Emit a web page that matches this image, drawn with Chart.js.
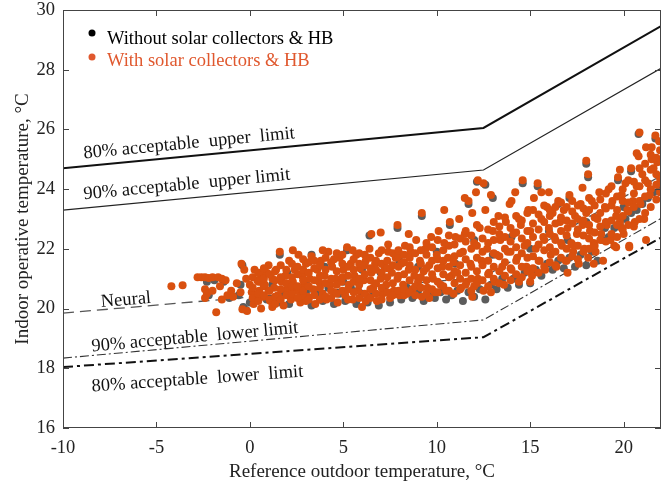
<!DOCTYPE html>
<html>
<head>
<meta charset="utf-8">
<script src="https://cdn.jsdelivr.net/npm/chart.js@4"></script>
<style>
  html, body { margin: 0; padding: 0; background: #fff; }
  canvas { display: block; }
</style>
</head>
<body>
<canvas id="graph" width="667" height="486"></canvas>
<script>
//---------- data

// comfort limit lines (break at 12.5 °C)
const limitX = [-10, 12.5, 22];
const upper80 = [24.70, 26.05, 29.46];
const upper90 = [23.30, 24.64, 28.05];
const neutral = [19.85, 21.05, 24.45];
const lower90 = [18.34, 19.62, 23.02];
const lower80 = [18.04, 19.04, 22.38];

// with solar collectors & HB  [outdoor, indoor] - scattered / edge points
const withHB = [
  [-4.2,20.75],[-3.6,20.78],[-2.8,21.05],[-2.6,21.05],[-2.4,21.05],[-2.2,21.02],[-2.0,21.05],[-1.7,21.05],
  [-1.5,21.0],[-1.3,20.95],[-2.4,20.65],[-2.3,20.5],[-2.0,20.6],[-1.6,20.75],[-1.8,19.88],[-2.4,20.35],
  [-1.5,20.3],[-1.2,20.45],[-1.0,20.6],[-0.9,20.4],[-0.7,20.85],[-0.5,20.55],
  [-0.45,21.5],[-0.3,21.3],[-0.2,21.0],[0.0,20.8],[0.1,20.55],[0.25,21.3],[0.3,20.3],[-0.4,19.98],
  [-0.15,19.92],[0.4,20.95],[0.5,20.6],[0.6,21.1],[0.7,20.4],[0.8,20.8],[0.9,21.2],[1.0,20.6],
  [1.1,20.25],[1.2,21.0],[1.3,20.7],[1.4,21.3],[1.5,20.45],[1.6,21.9],[1.7,20.9],[1.8,20.1],
  [1.9,21.1],[2.0,20.65],[0.2,20.15],[0.6,20.0],[1.0,21.45],[1.2,20.05],
  [2.1,21.6],[2.2,20.3],[2.3,20.9],[2.4,21.3],[2.5,20.6],[2.6,21.8],[2.7,20.2],[2.8,21.1],
  [2.9,20.8],[3.0,21.5],[3.1,20.4],[3.2,21.0],[3.3,21.75],[3.4,20.65],[3.5,20.15],[3.6,21.3],
  [3.7,20.9],[3.8,21.6],[3.9,20.5],[4.0,21.1],[4.1,20.3],[4.2,21.9],[4.3,20.8],[4.4,21.4],
  [4.5,20.55],[4.6,21.0],[4.7,20.2],[4.8,21.7],[4.9,20.9],[5.0,21.3],[2.3,21.95],[3.0,20.25],
  [3.9,21.95],[4.5,21.65],[2.8,20.45],
  [5.1,20.45],[5.2,22.05],[5.3,20.8],[5.4,21.5],[5.5,20.3],[5.6,21.1],[5.7,21.8],[5.8,20.6],
  [5.9,21.35],[6.0,20.05],[6.1,20.95],[6.2,21.6],[6.3,20.4],[6.4,22.0],[6.5,22.5],[6.5,21.2],
  [6.6,20.7],[6.7,21.5],[6.8,20.25],[6.9,21.85],[7.0,22.55],[7.0,21.0],[7.1,20.5],[7.2,21.4],
  [7.3,20.8],[7.4,21.9],[7.5,20.35],[7.6,21.2],[7.7,20.6],[7.8,21.7],[7.9,22.8],[7.9,21.0],
  [8.0,20.45],[5.5,21.95],[6.2,20.25],[7.4,22.15],
  [8.1,21.5],[8.2,20.8],[8.3,22.1],[8.4,20.5],[8.5,21.3],[8.6,21.9],[8.7,20.65],[8.8,21.1],
  [8.9,22.3],[9.0,20.9],[9.1,21.6],[9.2,23.2],[9.2,20.4],[9.3,21.25],[9.4,22.0],[9.5,20.7],
  [9.6,21.45],[9.7,22.4],[9.8,21.0],[9.9,20.55],[10.0,21.8],[10.1,22.6],[10.2,20.8],[10.3,21.4],
  [10.4,22.2],[10.5,20.6],[10.6,21.7],[10.7,22.9],[10.8,21.1],[10.9,20.5],[11.0,22.4],[8.5,22.5],
  [9.6,20.35],[10.4,23.3],[10.9,21.55],
  [11.1,21.2],[11.2,23.0],[11.3,20.7],[11.4,21.9],[11.5,22.5],[11.6,20.9],[11.7,23.6],[11.8,21.5],
  [11.9,20.4],[12.0,22.2],[12.1,23.9],[12.2,24.3],[12.2,21.0],[12.3,22.7],[12.4,21.6],[12.5,24.2],
  [12.5,20.6],[12.6,23.3],[12.7,22.0],[12.8,21.2],[12.9,23.8],[13.0,22.6],[13.1,20.9],[13.2,21.8],
  [13.3,23.1],[13.4,22.3],[13.5,21.4],[11.5,23.7],[12.0,20.75],[12.9,20.55],[11.9,23.2],
  [13.6,20.8],[13.7,22.9],[13.8,21.9],[13.9,23.5],[14.0,21.3],[14.1,22.5],[14.2,23.9],[14.3,21.7],
  [14.4,20.9],[14.5,22.8],[14.6,24.3],[14.7,22.1],[14.8,21.4],[14.9,23.3],[15.0,22.6],[15.1,21.1],
  [15.2,23.7],[15.3,22.0],[15.4,24.2],[15.5,21.6],[15.6,23.0],[15.7,22.4],[15.8,21.3],[15.9,23.4],
  [16.0,22.7],[14.0,23.6],[15.0,20.9],[15.6,23.9],[14.4,23.0],
  [16.1,21.8],[16.2,23.2],[16.3,22.4],[16.4,21.4],[16.5,23.6],[16.6,22.9],[16.7,22.1],[16.8,23.3],
  [16.9,21.6],[17.0,22.7],[17.1,23.8],[17.2,22.2],[17.3,21.9],[17.4,23.1],[17.5,22.5],[17.6,21.5],
  [17.7,23.5],[17.8,22.8],[17.9,22.0],[18.0,24.95],[18.0,23.2],[18.1,21.7],[18.2,22.6],[18.3,23.6],
  [18.4,22.2],[18.5,21.9],[18.6,23.0],[18.7,23.9],[18.8,22.5],[18.9,21.6],[19.0,23.4],[17.0,21.2],
  [18.4,21.5],[16.0,23.9],[18.1,24.5],[17.8,24.05],
  [19.1,22.8],[19.2,24.0],[19.3,22.3],[19.4,23.6],[19.5,22.1],[19.6,23.1],[19.7,24.4],[19.8,22.9],
  [19.9,23.8],[20.0,22.5],[20.1,24.2],[20.2,23.3],[20.3,22.1],[20.4,24.7],[20.5,23.6],[20.6,22.9],
  [20.7,24.1],[20.8,25.1],[20.9,23.5],[21.0,24.5],[21.1,23.0],[21.2,25.4],[21.3,24.2],[21.4,23.8],
  [21.5,25.0],[21.6,24.7],[21.7,25.8],[21.8,24.9],[21.9,25.6],[21.95,24.95],[19.6,22.05],[20.3,22.05],
  [21.2,22.3],[19.9,22.7],[20.85,25.9],[20.7,25.2],[21.5,25.4],[19.8,24.65]
];

// with solar collectors & HB - dense core of the cloud, [outdoor, [indoor values]]
const withHBCore = [
  [0.15,[20.35,20.7,21.05]], [0.45,[20.25,20.5,20.9,21.2]], [0.75,[20.45,20.75,21.0,21.35]],
  [1.05,[20.3,20.6,21.15]], [1.35,[20.15,20.4,20.95,21.25]], [1.65,[20.3,20.65,21.05,21.45]],
  [1.95,[20.45,20.85,21.3]], [2.25,[20.5,20.75,21.05,21.5]], [2.55,[20.35,20.75,21.15,21.4]],
  [2.85,[20.6,20.95,21.3,21.65]], [3.15,[20.3,20.75,21.2,21.55]], [3.45,[20.45,20.95,21.35,21.6]],
  [3.75,[20.3,20.7,21.1,21.45]], [4.05,[20.4,20.85,21.3,21.7]], [4.35,[20.35,20.6,21.0,21.55]],
  [4.65,[20.5,20.8,21.25,21.85]], [4.95,[20.6,21.05,21.5,21.8]], [5.25,[20.3,20.65,21.1,21.4]],
  [5.55,[20.55,20.9,21.3,21.65]], [5.85,[20.35,20.8,21.0,21.5,21.85]], [6.15,[20.5,21.15,21.45,21.8]],
  [6.45,[20.35,20.65,20.95,21.35,21.7]], [6.75,[20.5,20.85,21.3,21.6]], [7.05,[20.3,20.7,21.2,21.5,21.95]],
  [7.35,[20.55,21.05,21.35,21.6]], [7.65,[20.45,20.85,21.45,21.85]], [7.95,[20.6,21.1,21.4,21.75,21.95]],
  [8.25,[20.45,20.65,21.15,21.55,21.8]], [8.55,[20.55,20.95,21.45,21.7,22.05]], [8.85,[20.45,20.75,21.3,21.85]],
  [9.15,[20.7,21.05,21.5,21.95]], [9.45,[20.5,20.95,21.35,21.8,22.2]], [9.75,[20.65,21.15,21.6,22.05]],
  [10.05,[20.55,20.9,21.35,21.65,22.3]], [10.35,[20.75,21.15,21.6,21.95]], [10.65,[20.6,21.05,21.4,22.1,22.45]],
  [10.95,[20.85,21.25,21.75,22.15]], [11.25,[20.65,21.0,21.45,21.85,22.35]], [11.55,[20.8,21.2,21.65,22.25,22.6]],
  [11.85,[20.6,21.0,21.4,22.0,22.45]], [12.15,[20.85,21.25,21.7,22.1,22.8]], [12.45,[20.95,21.45,21.9,22.35]],
  [12.75,[20.75,21.15,21.6,22.2,22.65]], [13.05,[21.0,21.4,21.85,22.3,22.9]], [13.35,[20.85,21.25,21.75,22.5,22.75]],
  [13.65,[21.1,21.55,22.0,22.4,23.05]], [13.95,[20.95,21.35,21.9,22.25,22.7]], [14.25,[21.15,21.6,22.05,22.55,23.1]],
  [14.55,[21.05,21.4,21.85,22.35,22.95]], [14.85,[21.25,21.7,22.2,22.6,23.2]], [15.15,[21.35,21.75,22.4,22.85,23.3]],
  [15.45,[21.2,21.6,22.15,22.65,23.15]], [15.75,[21.4,21.95,22.3,22.9,23.45]], [16.05,[21.55,22.05,22.5,23.1,23.3]],
  [16.35,[21.45,21.9,22.3,22.85,23.4]], [16.65,[21.7,22.2,22.6,23.05,23.55]], [16.95,[21.6,22.0,22.45,22.95,23.4]],
  [17.25,[21.75,22.15,22.85,23.25,23.6]], [17.55,[21.65,22.1,22.65,23.0,23.45]], [17.85,[21.9,22.45,22.95,23.35]],
  [18.15,[22.0,22.35,22.8,23.3,23.7]], [18.45,[22.1,22.55,23.05,23.45]], [18.75,[22.3,22.75,23.2,23.65]],
  [19.05,[22.25,22.9,23.35,23.85]], [19.35,[22.5,22.95,23.45,24.1]], [19.65,[22.4,22.8,23.3,23.75]],
  [19.95,[22.65,23.1,23.6,24.0]], [20.25,[22.8,23.25,23.55,24.3]], [20.55,[22.75,23.4,23.85,24.25]],
  [20.85,[23.0,23.6,24.1,24.7]], [21.15,[23.2,23.75,24.3,24.85]], [21.45,[23.4,24.0,24.65,25.15]],
  [21.75,[23.65,24.15,24.5,25.05]], [21.95,[23.9,24.35,25.3]]
];

// without solar collectors & HB  [outdoor, indoor]
const withoutHB = [
  [-2.3,20.9],[-1.9,20.95],[-1.4,20.9],[-2.2,20.45],[-1.1,20.35],[-0.6,20.45],[-0.35,20.05],[-0.2,19.95],
  [0.0,20.2],[-0.5,20.8],[0.3,20.45],[0.6,20.9],[0.9,20.3],[1.2,20.8],[1.5,20.2],[1.8,20.55],
  [2.1,20.15],[2.4,20.75],[2.7,20.35],[3.0,20.9],[3.3,20.1],[3.6,20.55],[3.9,20.25],[4.2,20.7],
  [4.5,20.15],[4.8,20.5],[5.1,20.25],[5.4,20.7],[5.7,20.15],[6.0,20.5],[6.3,20.2],[6.6,20.55],
  [6.9,20.1],[7.2,20.6],[7.5,20.2],[7.8,20.5],[8.1,20.3],[8.4,20.7],[8.7,20.35],[9.0,20.6],
  [9.3,20.25],[9.6,20.5],[9.9,20.35],[10.2,20.55],[10.5,20.3],[10.8,20.45],[11.1,20.6],[11.4,20.25],
  [11.7,20.55],[12.0,20.4],[12.3,20.65],[12.6,20.3],[12.9,20.8],[13.2,20.65],[13.5,21.0],[13.8,20.7],
  [14.1,21.0],[14.4,20.8],[14.7,21.2],[15.0,20.85],[15.3,21.3],[15.6,21.1],[15.9,21.5],[16.2,21.3],
  [16.5,21.6],[16.8,21.35],[17.1,21.7],[17.4,21.4],[17.7,21.8],[18.0,21.45],[18.3,21.9],[18.6,21.6],
  [18.9,22.3],[19.2,22.4],[19.5,22.7],[19.8,22.8],[20.1,23.0],[20.4,23.2],[20.7,23.3],[21.0,23.5],
  [21.3,23.7],[21.6,23.9],[21.9,24.1],
  [-0.4,21.45],[1.6,21.8],[3.3,21.8],[5.2,21.95],[6.4,22.45],[7.9,22.7],[9.2,23.1],[10.7,22.8],
  [11.7,23.5],[12.15,24.25],[12.6,24.15],[14.6,24.2],[15.4,24.1],[18.0,24.85],[18.1,24.4],[19.7,24.3],
  [20.8,25.85],[21.7,25.7],[13.0,23.7],[16.5,23.5],[17.1,23.7],[20.4,24.6],
  [2.0,21.2],[4.0,21.4],[6.0,21.3],[8.0,21.6],[10.0,21.9],[12.0,22.3],[14.0,22.4],[16.0,22.6],
  [18.0,22.9],[20.0,23.4],[3.0,20.6],[5.0,20.9],[7.0,21.2],[9.0,21.4],[11.0,21.5],[13.0,21.8],
  [15.0,22.0],[17.0,22.3],[19.0,22.7],[21.0,23.6]
];

const orange = '#d9500f';
const grey = '#5c5c5c';
const serif = "'Liberation Serif', 'DejaVu Serif', serif";

function toPoints(pairs) {
  return pairs.map(p => ({ x: p[0], y: p[1] }));
}
function columnPoints(cols) {
  const out = [];
  cols.forEach(c => c[1].forEach(v => out.push({ x: c[0], y: v })));
  return out;
}
function limitLine(vals) {
  return limitX.map((x, i) => ({ x: x, y: vals[i] }));
}

//---------- box with inward ticks, like the original figure

const frame = {
  id: 'frame',
  afterDraw(chart) {
    const { ctx, chartArea: a, scales: { x, y } } = chart;
    ctx.save();
    ctx.strokeStyle = '#444';
    ctx.lineWidth = 1;
    ctx.strokeRect(a.left + 0.5, a.top + 0.5, a.right - a.left - 1, a.bottom - a.top - 1);
    ctx.beginPath();
    x.ticks.forEach(t => {
      const px = Math.round(x.getPixelForValue(t.value)) + 0.5;
      ctx.moveTo(px, a.bottom); ctx.lineTo(px, a.bottom - 6);
      ctx.moveTo(px, a.top); ctx.lineTo(px, a.top + 6);
    });
    y.ticks.forEach(t => {
      const py = Math.round(y.getPixelForValue(t.value)) + 0.5;
      ctx.moveTo(a.left, py); ctx.lineTo(a.left + 6, py);
      ctx.moveTo(a.right, py); ctx.lineTo(a.right - 6, py);
    });
    ctx.stroke();
    ctx.restore();
  }
};

//---------- legend and the labels written along the lines

const notes = {
  id: 'notes',
  afterDatasetsDraw(chart) {
    const { ctx, scales: { x, y } } = chart;
    ctx.save();
    ctx.font = '18.5px ' + serif;
    ctx.textBaseline = 'alphabetic';

    // legend
    ctx.fillStyle = '#000';
    ctx.beginPath(); ctx.arc(92, 33, 3.5, 0, Math.PI * 2); ctx.fill();
    ctx.fillText('Without solar collectors & HB', 107, 44);
    ctx.fillStyle = '#e0582e';
    ctx.beginPath(); ctx.arc(92, 57, 3.5, 0, Math.PI * 2); ctx.fill();
    ctx.fillText('With solar collectors & HB', 107, 66);

    // line labels
    const labels = [
      { text: '80% acceptable  upper  limit', vx: -8.88, vy: 25.03, line: upper80 },
      { text: '90% acceptable  upper limit', vx: -8.88, vy: 23.66, line: upper90 },
      { text: 'Neural', vx: -7.95, vy: 20.05, line: neutral },
      { text: '90% acceptable  lower limit', vx: -8.45, vy: 18.56, line: lower90 },
      { text: '80% acceptable  lower  limit', vx: -8.45, vy: 17.22, line: lower80 }
    ];
    ctx.fillStyle = '#111';
    labels.forEach(l => {
      const dx = x.getPixelForValue(limitX[1]) - x.getPixelForValue(limitX[0]);
      const dy = y.getPixelForValue(l.line[1]) - y.getPixelForValue(l.line[0]);
      ctx.save();
      ctx.translate(x.getPixelForValue(l.vx), y.getPixelForValue(l.vy));
      ctx.rotate(Math.atan2(dy, dx));
      ctx.fillText(l.text, 0, 0);
      ctx.restore();
    });
    ctx.restore();
  }
};

//---------- chart

const ctx = document.getElementById('graph');

new Chart(ctx, {
  type: 'scatter',
  data: {
    datasets: [
      {
        label: 'With solar collectors & HB',
        data: toPoints(withHB).concat(columnPoints(withHBCore)),
        backgroundColor: orange,
        borderWidth: 0,
        pointRadius: 4,
        order: 0
      },
      {
        label: 'Without solar collectors & HB',
        data: toPoints(withoutHB),
        backgroundColor: grey,
        borderWidth: 0,
        pointRadius: 4,
        order: 1
      },
      {
        label: '80% upper', data: limitLine(upper80), showLine: true, pointRadius: 0,
        borderColor: '#111', borderWidth: 2, order: 2
      },
      {
        label: '90% upper', data: limitLine(upper90), showLine: true, pointRadius: 0,
        borderColor: '#222', borderWidth: 1.2, order: 2
      },
      {
        label: 'Neural', data: limitLine(neutral), showLine: true, pointRadius: 0,
        borderColor: '#555', borderWidth: 1.3, borderDash: [11, 6], order: 2
      },
      {
        label: '90% lower', data: limitLine(lower90), showLine: true, pointRadius: 0,
        borderColor: '#333', borderWidth: 1.1, borderDash: [9, 3, 2, 3], order: 2
      },
      {
        label: '80% lower', data: limitLine(lower80), showLine: true, pointRadius: 0,
        borderColor: '#111', borderWidth: 2, borderDash: [10, 4, 3, 4], order: 2
      }
    ]
  },
  options: {
    responsive: false,
    animation: false,
    devicePixelRatio: 1,
    layout: { padding: { top: 10, right: 6, left: 0, bottom: 0 } },
    plugins: {
      legend: { display: false },
      tooltip: { enabled: false }
    },
    scales: {
      x: {
        type: 'linear',
        min: -10,
        max: 22,
        grid: { display: false, drawTicks: false },
        border: { display: false },
        ticks: {
          stepSize: 5,
          includeBounds: false,
          padding: 9,
          color: '#222',
          font: { family: serif, size: 18.5 }
        },
        title: {
          display: true,
          text: 'Reference outdoor temperature, °C',
          color: '#222',
          font: { family: serif, size: 19 },
          padding: { top: 0, bottom: 3 }
        },
        afterFit(scale) {
          scale.height = 58;
          scale.paddingLeft = 0;
          scale.paddingRight = 0;
        }
      },
      y: {
        type: 'linear',
        min: 16,
        max: 30,
        grid: { display: false, drawTicks: false },
        border: { display: false },
        ticks: {
          stepSize: 2,
          includeBounds: false,
          padding: 8,
          color: '#222',
          font: { family: serif, size: 18.5 }
        },
        title: {
          display: true,
          text: 'Indoor operative temperature, °C',
          color: '#222',
          font: { family: serif, size: 19 },
          padding: { top: 12, bottom: 0 }
        },
        afterFit(scale) {
          scale.width = 63;
          scale.paddingTop = 0;
          scale.paddingBottom = 0;
        }
      }
    }
  },
  plugins: [frame, notes]
});
</script>
</body>
</html>
